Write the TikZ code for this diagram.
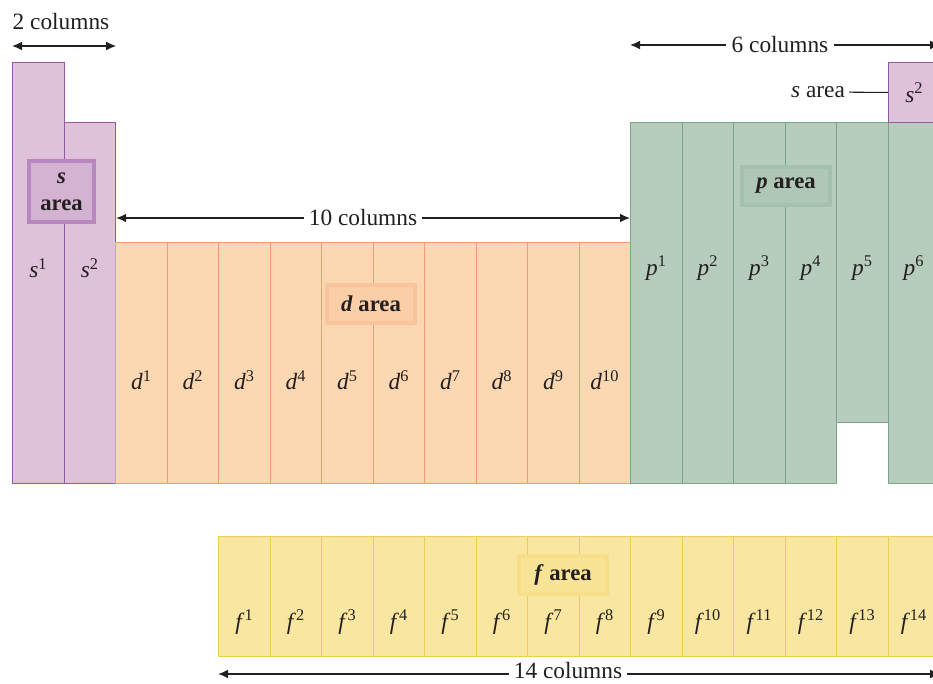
\documentclass[tikz,border=0pt]{standalone}
\usepackage{fontspec}
\setmainfont{Liberation Serif}
\usetikzlibrary{arrows.meta,positioning,calc}
\definecolor{Ink}{RGB}{35,31,32}
\definecolor{Sfill}{RGB}{223,193,218}
\definecolor{Sline}{RGB}{150,90,165}
\definecolor{Dfill}{RGB}{252,216,178}
\definecolor{Dline}{RGB}{242,155,112}
\definecolor{Pfill}{RGB}{182,204,188}
\definecolor{Pline}{RGB}{120,166,135}
\definecolor{Ffill}{RGB}{249,230,160}
\definecolor{Fline}{RGB}{240,205,80}
\tikzset{
  cell/.style={line width=0.9pt,inner sep=0pt,anchor=north west,minimum width=51.5*0.75pt},
  scell/.style={cell,draw=Sline,fill=Sfill},
  dcell/.style={cell,draw=Dline,fill=Dfill},
  pcell/.style={cell,draw=Pline,fill=Pfill},
  fcell/.style={cell,draw=Fline,fill=Ffill},
  clab/.style={text=Ink,font=\fontsize{17.5}{20}\selectfont,inner sep=1pt},
  abox/.style={text=Ink,font=\bfseries\fontsize{17}{20}\selectfont,line width=3pt,inner sep=2pt,align=center,minimum width=88*0.75pt,minimum height=38*0.75pt},
  sbox/.style={abox,draw=Sfill!45!Sline,fill=Sfill!85!Sline,minimum width=65*0.75pt,minimum height=61*0.75pt},
  dbox/.style={abox,draw=Dfill!65!Dline,fill=Dfill!85!Dline},
  pbox/.style={abox,draw=Pfill!70!Pline,fill=Pfill!88!Pline},
  fbox/.style={abox,draw=Ffill!70!Fline,fill=Ffill!88!Fline},
  dimarr/.style={{Latex[length=7.5pt,width=6.5pt]}-{Latex[length=7.5pt,width=6.5pt]},line width=0.9pt,draw=Ink},
  dimtxt/.style={text=Ink,fill=white,font=\fontsize{17.5}{20}\selectfont,inner xsep=4pt,inner ysep=0.5pt}
}
\begin{document}
\begin{tikzpicture}[x=0.75pt,y=-0.75pt]
\clip (0,0) rectangle (933,684);
% s block
\node[scell,minimum height=421*0.75pt] (s1) at (12,62) {};
\node[scell,minimum height=361*0.75pt] (s2) at (63.5,122) {};
\node[clab] at (s1.north |- 0,268) {\textit{s}\textsuperscript{1}};
\node[clab] at (s2.north |- 0,268) {\textit{s}\textsuperscript{2}};
\node[sbox] (sarea) at (61.5,192) {\textit{s}\\area};
% d block
\foreach \i in {1,...,10} {
  \node[dcell,minimum height=241*0.75pt] (d\i) at ({115+51.5*(\i-1)},242) {};
  \node[clab] at (d\i.north |- 0,380) {\textit{d}\textsuperscript{\i}};
}
\node[dbox] (darea) at (371,304) {\textit{d} area};
% p block
\foreach \i in {1,2,3,4,6} {
  \node[pcell,minimum height=361*0.75pt] (p\i) at ({630+51.5*(\i-1)},122) {};
}
\node[pcell,minimum height=300*0.75pt] (p5) at (836,122) {};
\foreach \i in {1,...,6} {
  \node[clab] at (p\i.north |- 0,268) {\textit{p}\textsuperscript{\i}};
}
\node[pbox] (parea) at (786,186) {\textit{p} area};
\node[scell,minimum height=60*0.75pt] (he) at (888,62) {};
\node[clab] at (he.center) {\textit{s}\textsuperscript{2}};
\node[clab,inner xsep=3pt] (helab) at (818,92) {\textit{s} area};
\draw[Ink,line width=0.8pt] (helab) -- (he);
% f block
\foreach \i in {1,...,14} {
  \node[fcell,minimum height=120*0.75pt] (f\i) at ({218+51.5*(\i-1)},536) {};
  \node[clab] at (f\i.north |- 0,622) {\textit{f}\textsuperscript{\i}};
}
\node[fbox] (farea) at (563,575) {\textit{f} area};
% column counts
\draw[dimarr] (s1.west |- 0,46) -- (s2.east |- 0,46);
\node[dimtxt] (c2) at (61,22) {2 columns};
\draw[dimarr] (s2.east |- 0,218) -- (p1.west |- 0,218);
\node[dimtxt] (c10) at (363,218) {10 columns};
\draw[dimarr] (p1.west |- 0,45) -- (p6.east |- 0,45);
\node[dimtxt] (c6) at (780,45) {6 columns};
\draw[dimarr] (f1.west |- 0,674) -- (f14.east |- 0,674);
\node[dimtxt] (c14) at (568,671) {14 columns};
\end{tikzpicture}
\end{document}
